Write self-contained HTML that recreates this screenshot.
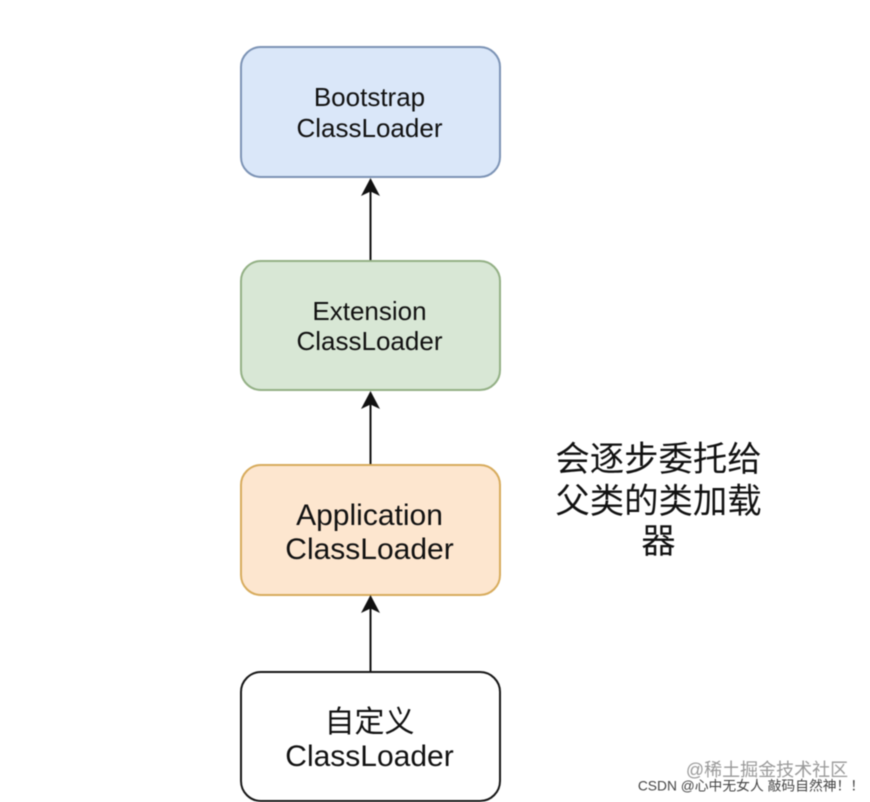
<!DOCTYPE html>
<html><head><meta charset="utf-8"><style>
html,body{margin:0;padding:0;background:#fff;width:870px;height:802px;overflow:hidden}
svg{display:block;filter:blur(0.5px)}
text{font-family:"Liberation Sans","Noto Sans CJK SC",sans-serif;text-anchor:middle;fill:#111}
</style></head><body>
<svg width="870" height="802" viewBox="0 0 870 802" xmlns="http://www.w3.org/2000/svg">
<rect x="241" y="47" width="259" height="130" rx="20" fill="#dae7f9" stroke="#7c93b5" stroke-width="2"/>
<rect x="241" y="261" width="259" height="129" rx="20" fill="#d8e7d5" stroke="#93b085" stroke-width="2"/>
<rect x="241" y="465" width="259" height="130" rx="20" fill="#fde6cf" stroke="#d7ab5c" stroke-width="2"/>
<rect x="241" y="672" width="259" height="129" rx="20" fill="#fff" stroke="#161616" stroke-width="2"/>
<g stroke="#111" stroke-width="2"><line x1="370.500" y1="260" x2="370.500" y2="190"/><line x1="370.500" y1="464" x2="370.500" y2="404"/><line x1="370.500" y1="671" x2="370.500" y2="608"/></g>
<g fill="#111"><path d="M370.500 178L380 196L370.500 191.500L361 196Z"/><path d="M370.500 391L380 409L370.500 404.500L361 409Z"/><path d="M370.500 595L380 613L370.500 608.500L361 613Z"/></g>
<text x="369.500" y="106" font-size="26">Bootstrap</text><text x="369.500" y="137" font-size="26">ClassLoader</text>
<text x="369.500" y="320" font-size="26">Extension</text><text x="369.500" y="350" font-size="26">ClassLoader</text>
<text x="369.500" y="525" font-size="30">Application</text><text x="369.500" y="559" font-size="30">ClassLoader</text>
<text x="369.500" y="732" font-size="30">自定义</text><text x="369.500" y="766" font-size="30">ClassLoader</text>
<text x="658.500" y="471" font-size="34.400">会逐步委托给</text><text x="658.500" y="513" font-size="34.400">父类的类加载</text><text x="658.500" y="553" font-size="34.400">器</text>
<text x="767" y="776" font-size="18" style="fill:#999">@稀土掘金技术社区</text>
<text x="751" y="790.500" font-size="13.800" style="fill:#444">CSDN @心中无女人 敲码自然神！！</text>
</svg>
</body></html>
